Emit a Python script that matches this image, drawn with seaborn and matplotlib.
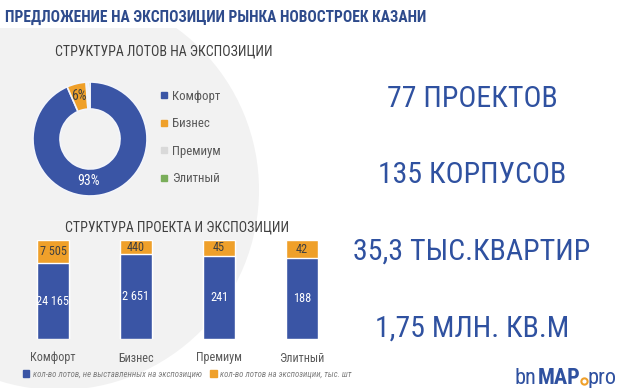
import matplotlib
matplotlib.use("Agg")
import numpy as np
import pandas as pd
import matplotlib.pyplot as plt
import seaborn as sns
from matplotlib import font_manager as fm
from matplotlib.patches import Ellipse, Rectangle, Patch
from matplotlib.lines import Line2D

# ---------------- data ----------------
categories = ["Комфорт", "Бизнес", "Премиум", "Элитный"]
not_exposed = [24165, 2651, 241, 188]     # кол-во лотов, не выставленных на экспозицию
exposed = [7505, 440, 45, 42]             # кол-во лотов на экспозиции
donut_labels = ["93%", "6%", "", ""]
stats = ["77 ПРОЕКТОВ", "135 КОРПУСОВ", "35,3 ТЫС.КВАРТИР", "1,75 МЛН. КВ.М"]
title = "ПРЕДЛОЖЕНИЕ НА ЭКСПОЗИЦИИ РЫНКА НОВОСТРОЕК КАЗАНИ"
donut_title = "СТРУКТУРА ЛОТОВ НА ЭКСПОЗИЦИИ"
bar_title = "СТРУКТУРА ПРОЕКТА И ЭКСПОЗИЦИИ"
legend_labels = ["кол-во лотов, не выставленных на экспозицию",
                 "кол-во лотов на экспозиции, тыс. шт"]

# ---------------- style ----------------
BLUE = "#3A55A5"
ORANGE = "#EFA02A"
GRAY_SLICE = "#D9D9D9"
GREEN = "#7AAE5A"
TITLE_BLUE = "#2E4B8C"
STAT_BLUE = "#2F51A0"
DARK = "#404040"
MID = "#595959"


def pick(names):
    for n in names:
        try:
            fm.findfont(fm.FontProperties(family=n), fallback_to_default=False)
            return n
        except Exception:
            pass
    return "DejaVu Sans"


FONT = pick(["Roboto Condensed", "Liberation Sans Narrow", "Open Sans Condensed", "Roboto"])

sns.set_theme(style="white")
plt.rcParams["font.family"] = [FONT, "DejaVu Sans"]

W, H = 620, 388
fig = plt.figure(figsize=(W / 100, H / 100), dpi=100, facecolor="white")


def fx(x):
    return x / W


def fy(y):
    return 1 - y / H


# background shape
fig.add_artist(Ellipse((fx(59), fy(190)), width=400 / W, height=400 / H,
                       transform=fig.transFigure, facecolor="#F2F2F2",
                       edgecolor="none", zorder=0))
fig.add_artist(Rectangle((0, fy(28)), 1, 28 / H, transform=fig.transFigure,
                         facecolor="white", edgecolor="none", zorder=0))

# title
fig.text(fx(5), fy(22), title, ha="left", va="baseline", fontsize=11.2,
         fontweight="bold", color=TITLE_BLUE)

# ---------------- donut ----------------
ax_d = fig.add_axes([fx(30), fy(199), 120 / W, 120 / H])
ax_d.set_facecolor("none")
ax_d.pie(exposed, colors=[BLUE, ORANGE, GRAY_SLICE, GREEN], startangle=90,
         counterclock=False, radius=0.95,
         wedgeprops=dict(width=0.45, edgecolor="#F3F5FB", linewidth=1.2))
ax_d.set_xlim(-1, 1)
ax_d.set_ylim(-1, 1)
ax_d.set_aspect("equal")
ax_d.axis("off")
label_pos = [(-0.03, -0.70), (-0.19, 0.71)]
label_col = ["white", DARK]
for (px, py), lab, c in zip(label_pos, donut_labels, label_col):
    ax_d.text(px, py, lab, ha="center", va="center", fontsize=10, color=c)

fig.text(fx(164), fy(56), donut_title, ha="center", va="baseline",
         fontsize=10, color=DARK)

handles = [Line2D([], [], marker="s", linestyle="none", markersize=4,
                  color=c) for c in [BLUE, ORANGE, GRAY_SLICE, GREEN]]
fig.legend(handles, categories, loc="center left",
           bbox_to_anchor=(fx(160), fy(137.5)), frameon=False, fontsize=9.3,
           labelcolor=MID, handlelength=0.6, handletextpad=0.3,
           labelspacing=1.12, borderpad=0, borderaxespad=0)

# ---------------- bars ----------------
ne = np.array(not_exposed, dtype=float)
ex = np.array(exposed, dtype=float)
df = pd.DataFrame({"cat": categories, "total": (ne + ex) / (ne + ex),
                   "blue": ne / (ne + ex)})

ax_b = fig.add_axes([fx(11.5), 49 / H, 332 / W, 99 / H])
ax_b.set_facecolor("none")
sns.barplot(data=df, x="cat", y="total", color=ORANGE, width=0.386,
            saturation=1, errorbar=None, ax=ax_b)
sns.barplot(data=df, x="cat", y="blue", color=BLUE, width=0.386,
            saturation=1, errorbar=None, ax=ax_b)


def fmt(v):
    return f"{int(v):,}".replace(",", " ")


for i in range(len(categories)):
    b = df["blue"].iloc[i]
    ax_b.text(i, (1 + b) / 2, fmt(ex[i]), ha="center", va="center",
              fontsize=8.8, color=DARK)
    ax_b.text(i, b / 2, fmt(ne[i]), ha="center", va="center",
              fontsize=8.8, color="white")

ax_b.set_ylim(0, 1)
ax_b.set_xlim(-0.5, 3.5)
ax_b.set_yticks([])
ax_b.set_xlabel("")
ax_b.set_ylabel("")
sns.despine(ax=ax_b, left=True, bottom=True)
ax_b.tick_params(axis="x", length=0, pad=9, labelsize=8.7, labelcolor=MID)

fig.text(fx(177), fy(231), bar_title, ha="center", va="baseline",
         fontsize=10, color=DARK)

fig.legend([Patch(color=BLUE), Patch(color=ORANGE)], legend_labels,
           loc="center left", bbox_to_anchor=(fx(23), fy(374)), ncol=2,
           frameon=False, prop=dict(size=6.3, style="italic"),
           labelcolor="#7F7F7F", handlelength=0.7, handleheight=0.7,
           handletextpad=0.4, columnspacing=1.0, borderpad=0,
           borderaxespad=0)

# ---------------- right-side stats ----------------
stat_baselines = [107, 183, 260, 337]
for s, yb in zip(stats, stat_baselines):
    fig.text(fx(472), fy(yb), s, ha="center", va="baseline", fontsize=21.5,
             color=STAT_BLUE)

# ---------------- logo ----------------
fig.canvas.draw()
renderer = fig.canvas.get_renderer()
x = 515.0
base = 384
for piece, weight in [("bn", "normal"), ("MAP", "bold")]:
    t = fig.text(fx(x), fy(base), piece, ha="left", va="baseline",
                 fontsize=16, fontweight=weight, color=STAT_BLUE)
    x = t.get_window_extent(renderer).x1 + 0.5
fig.add_artist(Line2D([fx(x + 3)], [fy(base - 3)], marker="o", markersize=4.5,
                      markerfacecolor="white", markeredgecolor=ORANGE,
                      markeredgewidth=1.5, transform=fig.transFigure))
fig.text(fx(x + 7), fy(base), "pro", ha="left", va="baseline", fontsize=16,
         color=STAT_BLUE)

fig.savefig("out.png", dpi=100, facecolor="white")
